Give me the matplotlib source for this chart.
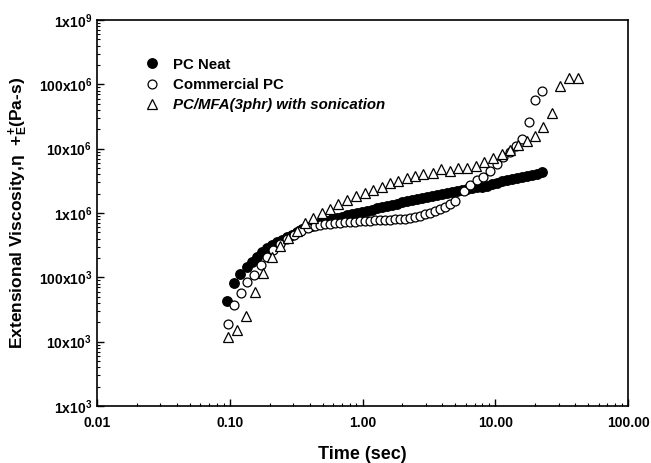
import matplotlib
matplotlib.use('Agg')
import matplotlib.pyplot as plt
from matplotlib.ticker import FixedLocator, FixedFormatter, LogLocator, NullFormatter

plt.rcParams['font.family'] = ['Liberation Sans', 'DejaVu Sans']
plt.rcParams['font.weight'] = 'bold'
plt.rcParams['mathtext.fontset'] = 'custom'
plt.rcParams['mathtext.rm'] = 'Liberation Sans:bold'
plt.rcParams['mathtext.it'] = 'Liberation Sans:bold:italic'
plt.rcParams['mathtext.bf'] = 'Liberation Sans:bold'

# --------------------------
# data
# --------------------------
neat_t = [0.0953, 0.1076, 0.1194, 0.1349,
          0.147, 0.1604, 0.1749, 0.1908, 0.2081, 0.2269, 0.2475, 0.2699, 0.2944, 0.3210,
          0.3501, 0.3819, 0.4165, 0.4542, 0.4953, 0.5402, 0.5892, 0.6425, 0.7008, 0.7643,
          0.8335, 0.9090, 0.9914, 1.081, 1.179, 1.286, 1.403, 1.530, 1.668, 1.819,
          1.984, 2.164, 2.360, 2.574, 2.807, 3.061, 3.339, 3.641, 3.971, 4.331,
          4.723, 5.151, 5.618, 6.127, 6.682, 7.287, 7.947, 8.667, 9.453, 10.31,
          11.24, 12.26, 13.37, 14.58, 15.90, 17.34, 18.91, 20.63, 22.50]
neat_eta = [4.288e4, 8.166e4, 1.127e5, 1.448e5,
            1.732e5, 2.071e5, 2.477e5, 2.858e5, 3.182e5, 3.543e5, 3.806e5, 4.238e5, 4.553e5, 5.069e5,
            5.644e5, 6.062e5, 6.283e5, 6.749e5, 7.250e5, 7.514e5, 8.072e5, 8.366e5, 8.671e5, 9.315e5,
            9.654e5, 1.000e6, 1.037e6, 1.075e6, 1.114e6, 1.197e6, 1.240e6, 1.285e6, 1.332e6, 1.381e6,
            1.483e6, 1.538e6, 1.594e6, 1.652e6, 1.712e6, 1.774e6, 1.839e6, 1.906e6, 1.975e6, 2.048e6,
            2.122e6, 2.199e6, 2.280e6, 2.363e6, 2.449e6, 2.538e6, 2.538e6, 2.630e6, 2.826e6, 2.929e6,
            3.146e6, 3.261e6, 3.380e6, 3.503e6, 3.631e6, 3.763e6, 3.899e6, 4.043e6, 4.342e6]

comm_t = [0.09701, 0.10765, 0.12154, 0.13489, 0.15230, 0.17196, 0.19080, 0.21170, 0.23902,
          0.26987, 0.30470, 0.34402, 0.38843, 0.43856, 0.4783, 0.5216, 0.5689, 0.6204,
          0.6766, 0.7379, 0.8048, 0.8777, 0.9572, 1.0439, 1.1385, 1.2416, 1.3541, 1.4768,
          1.6106, 1.7565, 1.9157, 2.0892, 2.2785, 2.4849, 2.7101, 2.9556, 3.2234, 3.5154,
          3.8339, 4.1813, 4.5601, 4.9732, 5.815, 6.453, 7.288, 8.086, 9.131, 10.31,
          11.44, 12.92, 14.33, 15.90, 17.96, 19.93, 22.50]
comm_eta = [1.883e4, 3.715e4, 5.709e4, 8.464e4, 1.088e5, 1.555e5, 2.071e5, 2.661e5, 3.298e5,
            3.945e5, 4.553e5, 5.254e5, 5.848e5, 6.283e5, 6.512e5, 6.749e5, 6.749e5, 6.995e5,
            6.995e5, 7.250e5, 7.250e5, 7.250e5, 7.514e5, 7.514e5, 7.514e5, 7.788e5, 7.788e5, 7.788e5,
            7.788e5, 8.072e5, 8.072e5, 8.072e5, 8.366e5, 8.671e5, 8.987e5, 9.654e5, 1.000e6, 1.075e6,
            1.155e6, 1.240e6, 1.381e6, 1.538e6, 2.199e6, 2.726e6, 3.261e6, 3.631e6, 4.500e6, 5.782e6,
            7.428e6, 8.883e6, 1.101e7, 1.415e7, 2.599e7, 5.713e7, 7.884e7]

mfa_t = [0.09701, 0.11338, 0.13256, 0.15496, 0.17800, 0.20806, 0.23902, 0.27459, 0.32095,
         0.36869, 0.42370, 0.49536, 0.56904, 0.65366, 0.76424, 0.89343, 1.0443, 1.1998,
         1.4026, 1.6114, 1.8512, 2.1643, 2.4863, 2.8563, 3.3972, 3.9029, 4.5622, 5.2411,
         6.1267, 7.1612, 8.2276, 9.6172, 11.242, 12.92, 14.840, 17.346, 19.93, 22.893,
         26.762, 30.743, 35.938, 42.012]
mfa_eta = [1.182e4, 1.518e4, 2.506e4, 5.917e4, 1.168e5, 2.071e5, 3.071e5, 4.089e5, 5.254e5,
           6.995e5, 8.366e5, 1.000e6, 1.155e6, 1.381e6, 1.594e6, 1.839e6, 2.048e6, 2.280e6,
           2.538e6, 2.929e6, 3.146e6, 3.503e6, 3.763e6, 4.043e6, 4.190e6, 4.834e6, 4.500e6, 5.010e6,
           5.010e6, 5.383e6, 6.212e6, 7.166e6, 8.270e6, 9.543e6, 1.141e7, 1.317e7, 1.575e7, 2.173e7,
           3.587e7, 9.428e7, 1.256e8, 1.256e8]

x_ticks = [0.01, 0.1, 1, 10, 100]
x_tick_labels = ['0.01', '0.10', '1.00', '10.00', '100.00']
y_ticks = [1e3, 1e4, 1e5, 1e6, 1e7, 1e8, 1e9]
y_tick_labels = [r'1x10$^3$', r'10x10$^3$', r'100x10$^3$', r'1x10$^6$',
                 r'10x10$^6$', r'100x10$^6$', r'1x10$^9$']

fig = plt.figure(figsize=(6.51, 4.63), dpi=100)
ax = fig.add_axes([97 / 651, 57 / 463, 531 / 651, 386 / 463])

ax.plot(neat_t, neat_eta, 'o', color='black', markersize=6.8, label='PC Neat')
ax.plot(comm_t, comm_eta, 'o', markerfacecolor='white', markeredgecolor='black',
        markersize=6.4, markeredgewidth=0.9, label='Commercial PC')
ax.plot(mfa_t, mfa_eta, '^', markerfacecolor='white', markeredgecolor='black',
        markersize=7, markeredgewidth=0.9, label='PC/MFA(3phr) with sonication')

ax.set_xscale('log')
ax.set_yscale('log')
ax.set_xlim(0.01, 100)
ax.set_ylim(1e3, 1e9)

ax.xaxis.set_major_locator(FixedLocator(x_ticks))
ax.xaxis.set_major_formatter(FixedFormatter(x_tick_labels))
ax.yaxis.set_major_locator(FixedLocator(y_ticks))
ax.yaxis.set_major_formatter(FixedFormatter(y_tick_labels))
ax.xaxis.set_minor_locator(LogLocator(base=10, subs=range(2, 10)))
ax.yaxis.set_minor_locator(LogLocator(base=10, subs=range(2, 10), numticks=20))
ax.xaxis.set_minor_formatter(NullFormatter())
ax.yaxis.set_minor_formatter(NullFormatter())

ax.tick_params(which='both', direction='in', top=False, right=False, labelsize=10)
ax.tick_params(which='major', length=5, width=1)
ax.tick_params(which='minor', length=2.5, width=0.8)
ax.tick_params(axis='x', pad=7)
for sp in ax.spines.values():
    sp.set_linewidth(1.2)

ax.set_xlabel('Time (sec)', fontsize=13, fontweight='bold', labelpad=12)
ax.set_ylabel('Extensional Viscosity,\u03b7  +$_{\\mathrm{E}}^{+}$(Pa-s)', fontsize=12.5,
              fontweight='bold', labelpad=6)

leg = ax.legend(loc='upper left', bbox_to_anchor=(0.064, 0.918), frameon=False,
                fontsize=10.8, handletextpad=0.4, labelspacing=0.42, borderaxespad=0)
leg.get_texts()[2].set_style('italic')

plt.savefig('out.png', dpi=100)
